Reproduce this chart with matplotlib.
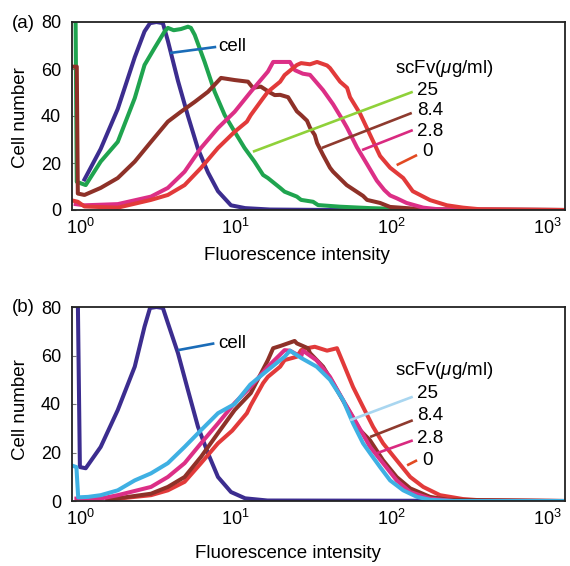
import matplotlib
matplotlib.use("Agg")
import matplotlib.pyplot as plt

plt.rcParams["font.family"] = ["Liberation Sans", "DejaVu Sans"]
plt.rcParams["mathtext.fontset"] = "custom"
plt.rcParams["mathtext.rm"] = "Liberation Sans"
plt.rcParams["mathtext.it"] = "Liberation Sans:italic"
plt.rcParams["mathtext.default"] = "regular"

# ---- panel (a): cells + scFv at 25 / 8.4 / 2.8 / 0 ug/ml -----------------
a_cell_x = [1.07, 1.36, 1.75, 2.25, 2.60, 2.82, 3.10, 3.41, 3.67, 4.26, 4.94, 5.73, 6.64, 7.70, 9.33, 11.5, 16.6, 40, 1300]
a_cell_y = [13, 26, 43, 65, 76, 79.5, 80, 79.5, 72, 55, 40, 26, 16, 8, 2, 0.8, 0.2, 0, 0]

a_25_x = [0.90, 0.935, 0.955, 1.09, 1.36, 1.75, 2.25, 2.60, 3.02, 3.50, 3.67, 4.00, 4.45, 4.94, 5.16, 5.46, 6.32, 7.33,
          8.50, 9.85, 11.4, 13.2, 15.0, 16.1, 19.3, 20.6, 24.7, 26.3, 31.4, 33.8, 46.8, 72.9, 150, 1300]
a_25_y = [95, 95, 12, 10.6, 20.6, 29, 47.6, 61.7, 69, 76, 77.5, 76.5, 77, 78, 77.5, 74.5, 63, 50.3,
          40.4, 33.3, 26.4, 20.6, 14.9, 13.6, 9.4, 7.8, 5.7, 4.3, 3.5, 2.1, 1.4, 0.8, 0.2, 0]

a_84_x = [0.90, 0.955, 0.97, 1.07, 1.36, 1.75, 2.25, 2.86, 3.67, 4.45, 5.46, 6.64, 8.05, 9.85, 12.0, 12.9, 14.5, 16.6,
          17.8, 19.3, 21.7, 24.7, 26.3, 28.7, 30.0, 32.2, 33.3, 36.4, 40.3, 42.2, 51.6, 65.7, 69.7, 84.5, 98, 138, 200, 1300]
a_84_y = [61, 61, 7, 6.4, 9.4, 13.6, 20.6, 29, 37.6, 41.8, 46, 50.3, 56.2, 55.3, 54.6, 52, 52.5, 50,
          48.9, 49, 48, 42, 40.4, 38, 35, 31.9, 28.5, 23.4, 18, 16.3, 10.6, 6, 4.3, 3, 1.3, 0.6, 0.2, 0]

a_28_x = [0.94, 1.07, 1.75, 2.86, 3.67, 4.70, 5.99, 7.70, 9.85, 12.5, 16.1, 17.4, 19.5, 22.3, 24.0, 27.0, 30.0, 33.3,
          36.4, 42.2, 48.9, 51.9, 60.0, 69.7, 80.5, 90, 98, 108, 125, 160, 200, 1300]
a_28_y = [2.5, 2, 2.5, 5.7, 9.4, 16.3, 26.4, 34.9, 41.8, 50.3, 58.9, 63, 63, 63, 59.5, 58, 57.5, 54,
          51, 45, 38, 35, 26.7, 19.5, 12.5, 8.5, 6.2, 5, 3, 1, 0.3, 0]

a_0_x = [0.90, 0.97, 1.07, 1.75, 2.86, 3.67, 4.70, 5.99, 7.70, 9.85, 11.8, 12.5, 15.0, 16.1, 19.3, 20.6, 24.7, 26.3,
         30.0, 33.3, 38.6, 40.3, 46.8, 51.9, 54.2, 62.9, 72.9, 84.5, 98, 119, 137, 177, 227, 288, 371, 1300]
a_0_y = [4, 3.5, 1.5, 1, 4.3, 6.4, 10.6, 17.9, 26.4, 33.3, 37.6, 40.4, 47.6, 50.3, 54.6, 57.4, 61.7, 62.5,
         62, 63, 61.5, 60.4, 54.6, 52, 48, 41, 32, 23, 18, 13.6, 8, 4.2, 2, 1, 0.3, 0]

# ---- panel (b) ---------------------------------------------------------------
b_cell_x = [0.90, 0.965, 1.0, 1.09, 1.36, 1.75, 2.25, 2.60, 2.82, 3.10, 3.41, 3.67, 4.26, 4.94, 5.73, 6.64, 7.70, 9.33, 11.5, 16, 1300]
b_cell_y = [95, 95, 14, 13.5, 22.3, 37.5, 55.4, 71.9, 79.6, 80, 79.6, 73.4, 61, 45.7, 30.6, 19.7, 9.9, 3.7, 1.1, 0.2, 0]

b_25_x = [0.90, 0.95, 0.975, 1.13, 1.36, 1.75, 2.25, 2.86, 3.67, 4.70, 5.99, 7.70, 9.85, 12.4, 16.1, 20.6, 22.3, 26.3,
          33.1, 40.3, 48.9, 56.7, 65.7, 72.9, 84.5, 98, 119, 146, 177, 250, 1300]
b_25_y = [14.5, 14, 1.5, 1.7, 2.4, 4.4, 8.5, 11.4, 15.6, 22.3, 29.2, 36.2, 40, 48, 54, 59.5, 62, 59,
          55.4, 50, 41.6, 32, 23.8, 19.7, 14, 8.5, 4.4, 1.7, 0.5, 0, 0]

b_84_x = [1.5, 2.86, 3.67, 4.70, 5.99, 7.70, 9.85, 12.5, 16.1, 17.4, 19.5, 23.9, 24.7, 29.1, 30.0, 36.4, 42.2, 51.6,
          62.9, 72.9, 88.3, 108, 132, 177, 230, 1300]
b_84_y = [0.5, 3, 5.8, 9.9, 18.2, 28, 37.5, 44.5, 58.1, 63, 64, 66, 65, 63, 61, 55.4, 48.6, 38.8,
          29.2, 25, 16.8, 9.9, 5.2, 1.7, 0.5, 0]

b_28_x = [0.95, 1.36, 1.75, 2.86, 3.67, 4.70, 5.99, 7.70, 9.85, 12.5, 16.1, 20.6, 22.3, 26.3, 27.0, 33.1, 40.3, 48.9,
          59.9, 72.9, 88.3, 108, 132, 177, 250, 1300]
b_28_y = [1, 1, 2.4, 5.8, 9.9, 15.6, 23.8, 32, 40.4, 47.1, 55.4, 62.2, 62, 59.5, 62, 58, 51.2, 41.6,
          32, 22.3, 15.6, 8.5, 3.7, 1, 0, 0]

b_0_x = [1.5, 2.86, 3.67, 4.70, 5.99, 7.70, 9.5, 11.8, 12.5, 15.0, 16.1, 19.3, 20.6, 24.7, 26.3, 28.7, 32.2, 38.6,
         44.7, 48.9, 56.7, 65.7, 76.2, 88.3, 108, 132, 160, 205, 288, 371, 1300]
b_0_y = [0.5, 2.4, 4.4, 7.9, 15.6, 23.8, 29, 36.2, 39.5, 48.6, 51.2, 55.4, 58.1, 59.5, 62.2, 63, 63.6, 62,
         63, 57, 47, 38.8, 30.6, 23.8, 16.8, 9.9, 5.8, 2.4, 0.8, 0.3, 0]

conc_labels = ["25", "8.4", "2.8", "0"]
xticks = [1, 10, 100, 1000]
xtick_labels = [r"$10^{0}$", r"$10^{1}$", r"$10^{2}$", r"$10^{3}$"]
yticks = [0, 20, 40, 60, 80]

PURPLE, GREEN, BROWN, MAGENTA, RED, CYAN = "#3c2d8f", "#1fa44f", "#8e3128", "#dc2f86", "#e23a3a", "#3fb0e3"
LW = 2.9


def style_axes(ax):
    ax.set_xscale("log")
    ax.set_xlim(0.89, 1300)
    ax.set_ylim(0, 80)
    ax.set_xticks(xticks)
    ax.set_xticklabels(xtick_labels, fontsize=13)
    ax.xaxis.set_minor_locator(matplotlib.ticker.NullLocator())
    ax.set_yticks(yticks)
    ax.set_yticklabels([str(v) for v in yticks], fontsize=13)
    ax.tick_params(axis="x", length=0, pad=6)
    ax.tick_params(axis="y", direction="in", length=3, pad=8, color="#777777")
    for s in ax.spines.values():
        s.set_linewidth(1.3)
        s.set_color("#222222")


def leaders(ax, lines, texts):
    for (x0, y0, x1, y1, c) in lines:
        ax.plot([x0, x1], [y0, y1], color=c, lw=1.9, solid_capstyle="butt")
    for (x, y, t) in texts:
        ax.text(x, y, t, fontsize=13.5, va="center", ha="left")


fig = plt.figure(figsize=(5.7, 5.66), dpi=100)
axa = fig.add_axes([72 / 570, 1 - 210 / 566, 493 / 570, 188 / 566])
axb = fig.add_axes([72 / 570, 1 - 501 / 566, 493 / 570, 194 / 566])

# (a)
axa.plot(a_cell_x, a_cell_y, color=PURPLE, lw=LW)
axa.plot(a_25_x, a_25_y, color=GREEN, lw=LW)
axa.plot(a_84_x, a_84_y, color=BROWN, lw=LW)
axa.plot(a_28_x, a_28_y, color=MAGENTA, lw=LW)
axa.plot(a_0_x, a_0_y, color=RED, lw=LW)
style_axes(axa)
leaders(axa,
        [(3.78, 66.8, 7.5, 69.4, "#1a6cb8"),
         (12.9, 24.8, 137, 50.3, "#8fd13a"),
         (35.7, 26.4, 135, 41.3, "#8e3a2e"),
         (64.7, 25.5, 137, 34.0, "#d92a80"),
         (108, 19.1, 146, 23.4, "#e24a22")],
        [(7.7, 69.4, "cell"),
         (105, 60.4, r"scFv($\mathit{\mu}$g/ml)"),
         (146, 51.0, conc_labels[0]), (146, 42.5, conc_labels[1]),
         (146, 33.2, conc_labels[2]), (158, 24.7, conc_labels[3])])

# (b)
axb.plot(b_cell_x, b_cell_y, color=PURPLE, lw=LW)
axb.plot(b_0_x, b_0_y, color=RED, lw=LW)
axb.plot(b_84_x, b_84_y, color=BROWN, lw=LW)
axb.plot(b_28_x, b_28_y, color=MAGENTA, lw=LW)
axb.plot(b_25_x, b_25_y, color=CYAN, lw=LW)
style_axes(axb)
leaders(axb,
        [(4.26, 62.2, 7.3, 65.0, "#1a6cb8"),
         (54.2, 33.3, 137, 43.0, "#a9d6f0"),
         (72.9, 26.4, 137, 33.3, "#8e3a2e"),
         (80.5, 19.7, 137, 25.0, "#d92a80"),
         (126, 14.7, 146, 16.8, "#e24a22")],
        [(7.7, 65.1, "cell"),
         (105, 54.0, r"scFv($\mathit{\mu}$g/ml)"),
         (146, 44.4, conc_labels[0]), (146, 35.4, conc_labels[1]),
         (146, 25.8, conc_labels[2]), (158, 16.8, conc_labels[3])])

for ax, lx, ly, yl in [(axa, 0.456, -0.24, 0.49), (axb, 0.438, -0.27, 0.47)]:
    ax.text(lx, ly, "Fluorescence intensity", transform=ax.transAxes, fontsize=13.5, ha="center", va="center")
    ax.text(-0.105, yl, "Cell number", transform=ax.transAxes, fontsize=13.5, rotation=90, ha="center", va="center")

fig.text(12 / 570, 1 - 23 / 566, "(a)", fontsize=13.5, va="center", ha="left")
fig.text(12 / 570, 1 - 307 / 566, "(b)", fontsize=13.5, va="center", ha="left")

fig.savefig("out.png", dpi=100)
